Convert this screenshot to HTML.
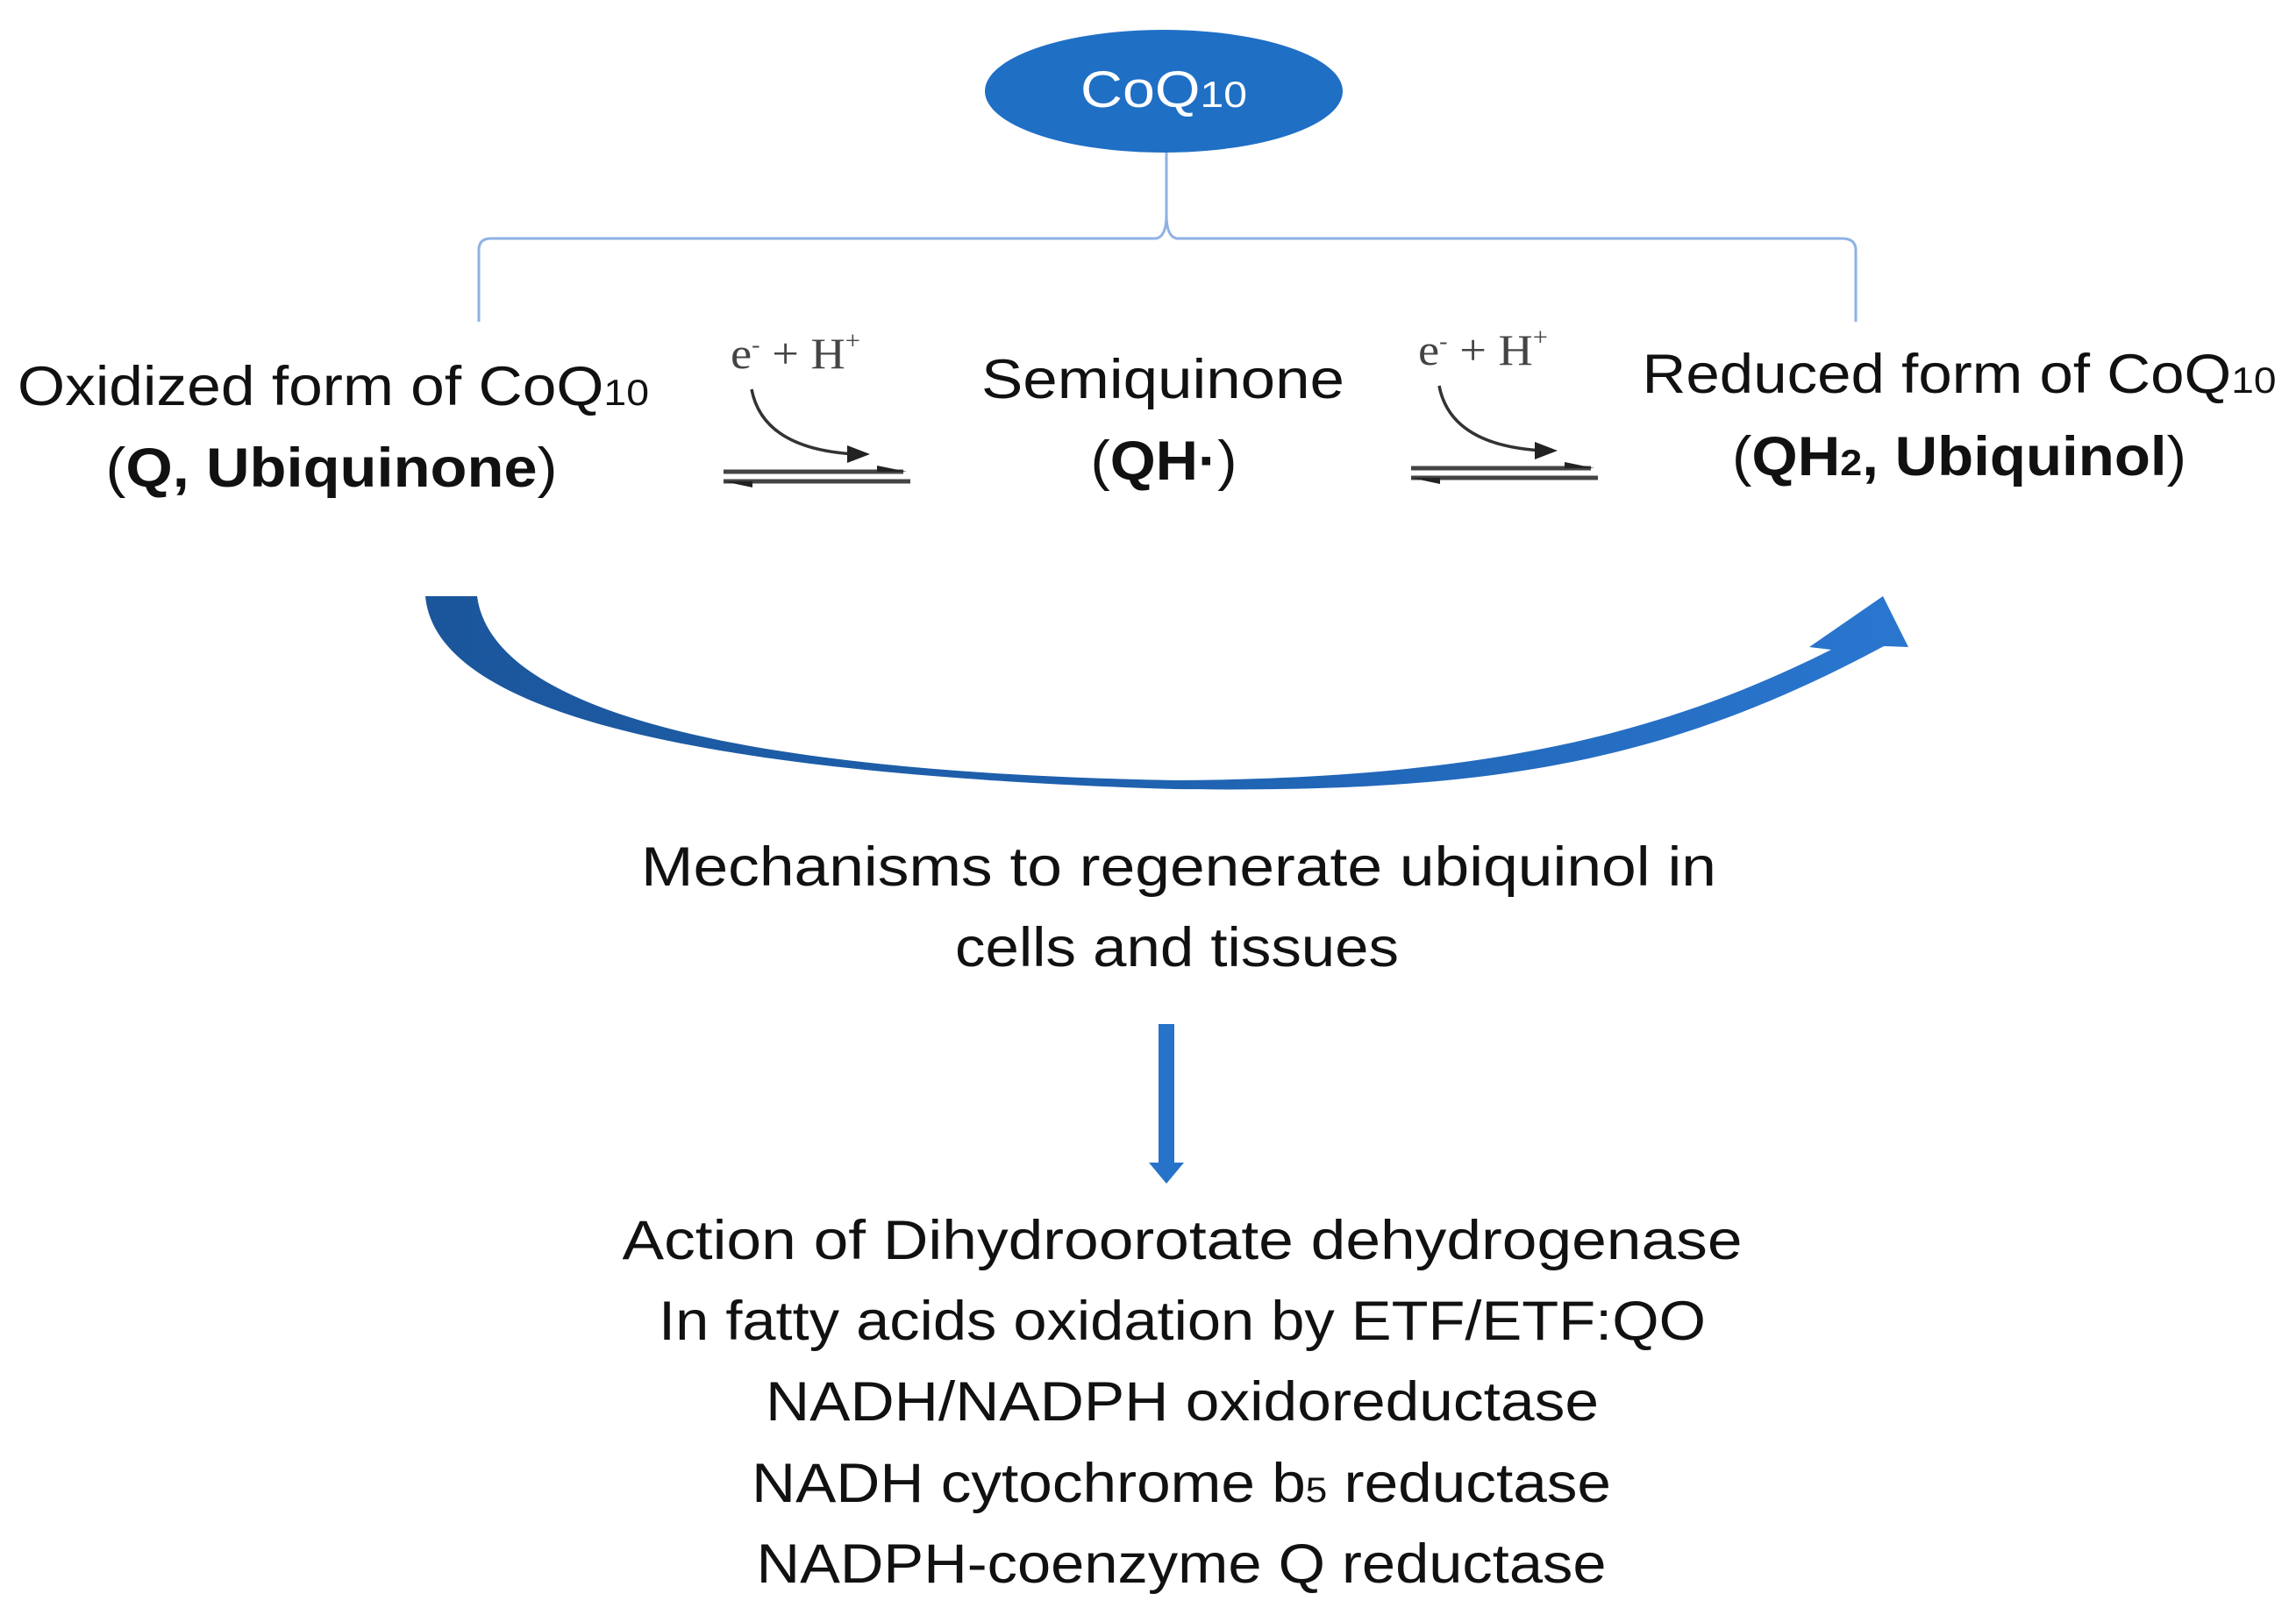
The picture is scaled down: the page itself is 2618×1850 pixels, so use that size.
<!DOCTYPE html>
<html><head><meta charset="utf-8"><style>
html,body{margin:0;padding:0;background:#fff;}
svg{display:block;}
text{font-family:"Liberation Sans",sans-serif;fill:#111;}
</style></head><body>
<svg width="2618" height="1850" viewBox="0 0 2618 1850" xmlns="http://www.w3.org/2000/svg">
<defs>
<linearGradient id="g" x1="0" x2="1" y1="0" y2="0">
<stop offset="0" stop-color="#1b569c"/><stop offset="0.5" stop-color="#1f62b0"/><stop offset="1" stop-color="#2a76cf"/>
</linearGradient>
</defs>
<ellipse cx="1327" cy="104" rx="204" ry="70" fill="#1f6fc5"/>
<text x="1327" y="122" font-size="58" text-anchor="middle" style="fill:#fff" textLength="190" lengthAdjust="spacingAndGlyphs">CoQ<tspan font-size="42">10</tspan></text>
<path d="M1330,174 L1330,245 Q1330,270 1318,272 L560,272 Q546,272 546,285 L546,367 M1330,245 Q1330,270 1342,272 L2100,272 Q2116,272 2116,285 L2116,367" fill="none" stroke="#8fb2e4" stroke-width="3"/>

<text x="380" y="462" font-size="63" text-anchor="middle" textLength="720" lengthAdjust="spacingAndGlyphs">Oxidized form of CoQ<tspan font-size="42">10</tspan></text>
<text x="378" y="555" font-size="63" text-anchor="middle" textLength="515" lengthAdjust="spacingAndGlyphs">(<tspan font-weight="bold">Q, Ubiquinone</tspan>)</text>
<text x="1326" y="454" font-size="63" text-anchor="middle" textLength="414" lengthAdjust="spacingAndGlyphs">Semiquinone</text>
<text x="1327" y="547" font-size="63" text-anchor="middle" textLength="167" lengthAdjust="spacingAndGlyphs">(<tspan font-weight="bold">QH·</tspan>)</text>
<text x="2234" y="448" font-size="63" text-anchor="middle" textLength="723" lengthAdjust="spacingAndGlyphs">Reduced form of CoQ<tspan font-size="42">10</tspan></text>
<text x="2234" y="542" font-size="63" text-anchor="middle" textLength="518" lengthAdjust="spacingAndGlyphs">(<tspan font-weight="bold">QH<tspan font-size="42">2</tspan>, Ubiquinol</tspan>)</text>

<g id="eq">
<text x="833" y="420" font-size="50" textLength="148" lengthAdjust="spacingAndGlyphs" style="font-family:'Liberation Serif',serif;fill:#444">e<tspan font-size="26" dy="-18">-</tspan><tspan dy="18"> + H</tspan><tspan font-size="28" dy="-22">+</tspan></text>
<path d="M857,444 Q870,512 975,518" fill="none" stroke="#333" stroke-width="3.5"/>
<path d="M966,508 L992,518 L966,528 Z" fill="#222"/>
<line x1="825" y1="538" x2="1030" y2="538" stroke="#444" stroke-width="5"/>
<line x1="825" y1="549" x2="1038" y2="549" stroke="#444" stroke-width="5"/>
<path d="M1000,531 L1034,538 L1000,538 Z" fill="#222"/>
<path d="M858,549 L825,549 L858,556 Z" fill="#222"/>
</g>
<use href="#eq" x="784" y="-4"/>

<path d="M485,680 C495,790 700,880 1340,900 C1700,905 1900,870 2148,737 L2176,738 L2147,680 L2063,738 L2088,741 C1900,835 1700,888 1340,890 C800,880 560,800 544,680 Z" fill="url(#g)"/>

<text x="1344" y="1010" font-size="63" text-anchor="middle" textLength="1226" lengthAdjust="spacingAndGlyphs">Mechanisms to regenerate ubiquinol in</text>
<text x="1342" y="1102" font-size="63" text-anchor="middle" textLength="506" lengthAdjust="spacingAndGlyphs">cells and tissues</text>

<rect x="1321" y="1168" width="18" height="162" fill="#2673c9"/>
<path d="M1310,1326 L1350,1326 L1330,1350 Z" fill="#2673c9"/>

<text x="1348" y="1436" font-size="63" text-anchor="middle" textLength="1277" lengthAdjust="spacingAndGlyphs">Action of Dihydroorotate dehydrogenase</text>
<text x="1348" y="1528" font-size="63" text-anchor="middle" textLength="1194" lengthAdjust="spacingAndGlyphs">In fatty acids oxidation by ETF/ETF:QO</text>
<text x="1348" y="1620" font-size="63" text-anchor="middle" textLength="950" lengthAdjust="spacingAndGlyphs">NADH/NADPH oxidoreductase</text>
<text x="1347" y="1713" font-size="63" text-anchor="middle" textLength="980" lengthAdjust="spacingAndGlyphs">NADH cytochrome b<tspan font-size="40">5</tspan> reductase</text>
<text x="1347" y="1805" font-size="63" text-anchor="middle" textLength="969" lengthAdjust="spacingAndGlyphs">NADPH-coenzyme Q reductase</text>
</svg>
</body></html>
